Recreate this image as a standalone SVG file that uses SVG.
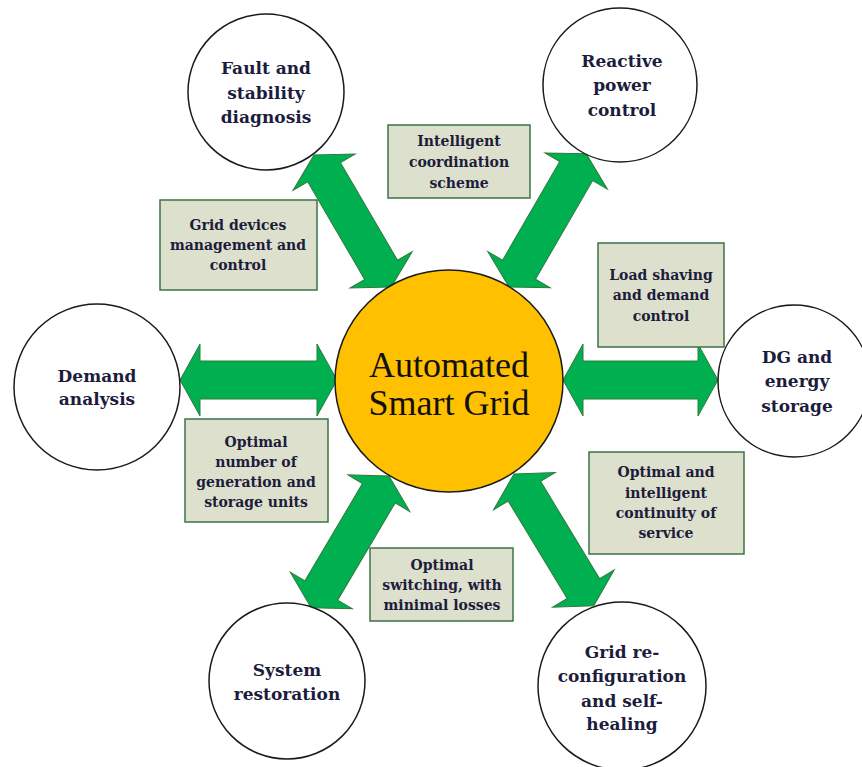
<svg xmlns="http://www.w3.org/2000/svg" width="862" height="767" viewBox="0 0 862 767">
  <style>
    .node circle { fill: #ffffff; stroke: #1a1a1a; stroke-width: 1.5; }
    .lbl { font-family: "DejaVu Serif", "Liberation Serif", serif; font-weight: bold; font-size: 17px; fill: #1c1c3c; text-anchor: middle; }
    .box rect { fill: #dde0cc; stroke: #3d7346; stroke-width: 1.5; }
    .box text { font-family: "DejaVu Serif", "Liberation Serif", serif; font-weight: bold; font-size: 14px; fill: #1c1c3c; text-anchor: middle; }
    .hub text { font-family: "Liberation Serif", "Times New Roman", serif; font-size: 36px; fill: #111111; text-anchor: middle; }
    .arrow { fill: #00b050; stroke: #2e7a3c; stroke-width: 1; stroke-linejoin: miter; }
  </style>
  <rect width="862" height="767" fill="#ffffff"/>

  <!-- double-headed block arrows between the hub and each function -->
  <g id="connectors">
    <path class="arrow" transform="translate(180,380)" d="M0,0 L20,-36 L20,-19 L137,-19 L137,-36 L157,0 L137,36 L137,19 L20,19 L20,36 Z"/>
    <path class="arrow" transform="translate(563,380)" d="M0,0 L20,-36 L20,-19 L135,-19 L135,-36 L155,0 L135,36 L135,19 L20,19 L20,36 Z"/>
    <path class="arrow" transform="translate(314,155) rotate(59.7)" d="M0,0 L20,-36 L20,-19 L133,-19 L133,-36 L153,0 L133,36 L133,19 L20,19 L20,36 Z"/>
    <path class="arrow" transform="translate(509,287) rotate(-59.9)" d="M0,0 L20,-36 L20,-19 L134,-19 L134,-36 L154,0 L134,36 L134,19 L20,19 L20,36 Z"/>
    <path class="arrow" transform="translate(389,476) rotate(120.6)" d="M0,0 L20,-36 L20,-19 L133,-19 L133,-36 L153,0 L133,36 L133,19 L20,19 L20,36 Z"/>
    <path class="arrow" transform="translate(514,474) rotate(58.8)" d="M0,0 L20,-36 L20,-19 L134,-19 L134,-36 L154,0 L134,36 L134,19 L20,19 L20,36 Z"/>
  </g>

  <!-- central hub -->
  <g id="hub" class="hub">
    <ellipse cx="449" cy="381" rx="114" ry="111" fill="#ffc000" stroke="#1a1a1a" stroke-width="1.5"/>
    <text x="449" y="377">Automated</text>
    <text x="449" y="415">Smart Grid</text>
  </g>

  <!-- surrounding functions -->
  <g id="fault" class="node">
    <circle cx="266" cy="92" r="78"/>
    <text class="lbl" x="266" y="74">Fault and</text>
    <text class="lbl" x="266" y="99">stability</text>
    <text class="lbl" x="266" y="123">diagnosis</text>
  </g>
  <g id="reactive" class="node">
    <circle cx="620" cy="85" r="77"/>
    <text class="lbl" x="622" y="67">Reactive</text>
    <text class="lbl" x="622" y="91">power</text>
    <text class="lbl" x="622" y="116">control</text>
  </g>
  <g id="dg" class="node">
    <circle cx="794" cy="381" r="76"/>
    <text class="lbl" x="797" y="363">DG and</text>
    <text class="lbl" x="797" y="387">energy</text>
    <text class="lbl" x="797" y="412">storage</text>
  </g>
  <g id="demand" class="node">
    <circle cx="97" cy="387" r="83"/>
    <text class="lbl" x="97" y="382">Demand</text>
    <text class="lbl" x="97" y="405">analysis</text>
  </g>
  <g id="restoration" class="node">
    <circle cx="287" cy="681" r="78"/>
    <text class="lbl" x="287" y="676">System</text>
    <text class="lbl" x="287" y="700">restoration</text>
  </g>
  <g id="reconfiguration" class="node">
    <circle cx="622" cy="686" r="84"/>
    <text class="lbl" x="622" y="658">Grid re-</text>
    <text class="lbl" x="622" y="682">configuration</text>
    <text class="lbl" x="622" y="707">and self-</text>
    <text class="lbl" x="622" y="730">healing</text>
  </g>

  <!-- objective labels -->
  <g id="box-coordination" class="box">
    <rect x="388" y="125" width="142" height="73"/>
    <text x="459" y="146">Intelligent</text>
    <text x="459" y="167">coordination</text>
    <text x="459" y="188">scheme</text>
  </g>
  <g id="box-devices" class="box">
    <rect x="160" y="200" width="157" height="90"/>
    <text x="238" y="230">Grid devices</text>
    <text x="238" y="250">management and</text>
    <text x="238" y="270">control</text>
  </g>
  <g id="box-load" class="box">
    <rect x="598" y="243" width="126" height="104"/>
    <text x="661" y="280">Load shaving</text>
    <text x="661" y="300">and demand</text>
    <text x="661" y="321">control</text>
  </g>
  <g id="box-units" class="box">
    <rect x="185" y="419" width="143" height="103"/>
    <text x="256" y="447">Optimal</text>
    <text x="256" y="467">number of</text>
    <text x="256" y="487">generation and</text>
    <text x="256" y="507">storage units</text>
  </g>
  <g id="box-switching" class="box">
    <rect x="370" y="548" width="143" height="73"/>
    <text x="442" y="570">Optimal</text>
    <text x="442" y="590">switching, with</text>
    <text x="442" y="610">minimal losses</text>
  </g>
  <g id="box-continuity" class="box">
    <rect x="589" y="452" width="155" height="102"/>
    <text x="666" y="477">Optimal and</text>
    <text x="666" y="498">intelligent</text>
    <text x="666" y="518">continuity of</text>
    <text x="666" y="538">service</text>
  </g>
</svg>
